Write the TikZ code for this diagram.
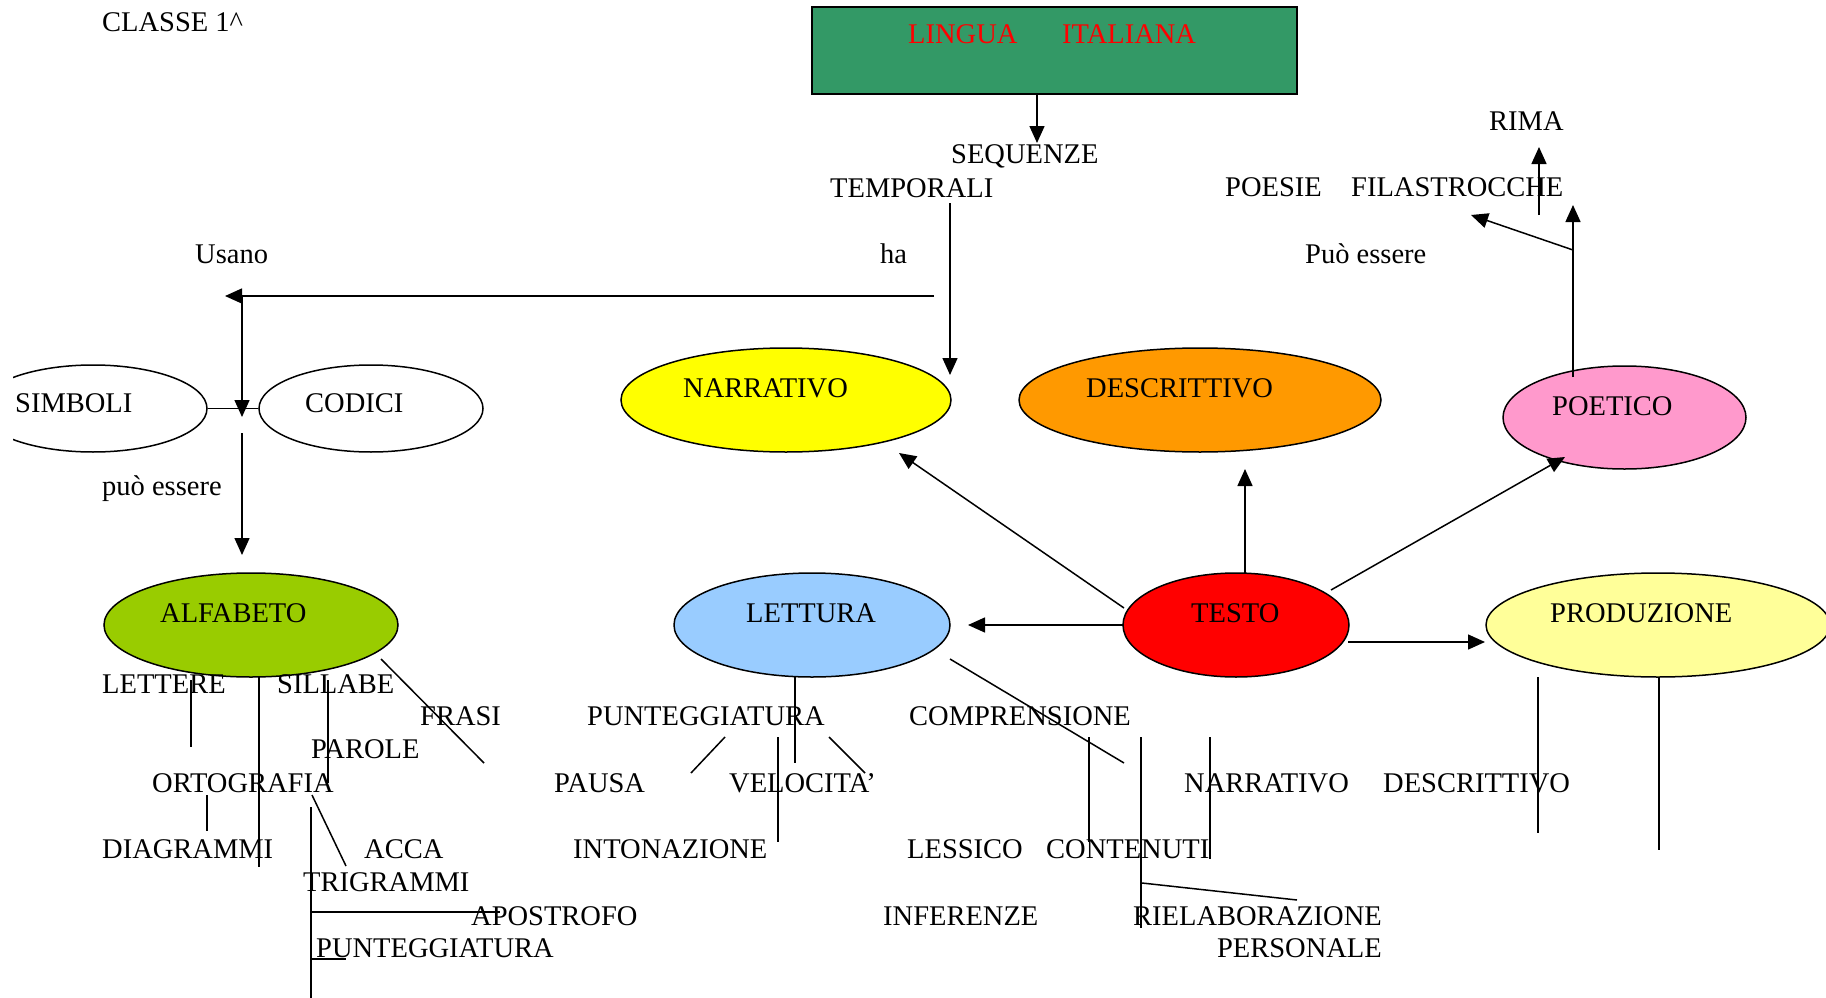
\documentclass[tikz,border=0pt]{standalone}
\usepackage{fontspec}
\setmainfont{Liberation Serif}
\usetikzlibrary{shapes.geometric,arrows.meta}
\definecolor{sea}{HTML}{339966}
\definecolor{cnarr}{HTML}{FFFF00}
\definecolor{cdesc}{HTML}{FF9900}
\definecolor{cpoet}{HTML}{FF99CC}
\definecolor{calfa}{HTML}{99CC00}
\definecolor{clett}{HTML}{99CCFF}
\definecolor{ctesto}{HTML}{FF0000}
\definecolor{cprod}{HTML}{FFFF99}
\begin{document}
\begin{tikzpicture}[x=1pt,y=-1pt,
  txt/.style={anchor=base west,inner sep=0pt,font=\fontsize{28.5}{34}\selectfont},
  ell/.style={ellipse,draw,line width=1.5pt,inner sep=0pt},
  ln/.style={line width=1.5pt},
  arr/.style={line width=1.5pt,-{Triangle[length=17pt,width=15pt]}}]
\useasboundingbox (0,0) rectangle (1826,998);
\begin{scope}
\clip (13,0) rectangle (1826,998);
% boxes and ellipses
\node[draw,line width=1.8pt,fill=sea,minimum width=485pt,minimum height=87pt,inner sep=0pt] (lingua) at (1054.5,50.5) {};
\node[ell,minimum width=228pt,minimum height=87pt] (simboli) at (93,408.5) {};
\node[ell,minimum width=224pt,minimum height=87pt] (codici) at (371,408.5) {};
\node[ell,fill=cnarr,minimum width=330pt,minimum height=104pt] (narr) at (786,400) {};
\node[ell,fill=cdesc,minimum width=362pt,minimum height=104pt] (descr) at (1200,400) {};
\node[ell,fill=cpoet,minimum width=243pt,minimum height=103pt] (poet) at (1624.5,417.5) {};
\node[ell,fill=calfa,minimum width=294pt,minimum height=104pt] (alfa) at (251,625) {};
\node[ell,fill=clett,minimum width=276pt,minimum height=104pt] (lett) at (812,625) {};
\node[ell,fill=ctesto,minimum width=226pt,minimum height=104pt] (testo) at (1236,625) {};
\node[ell,fill=cprod,minimum width=344pt,minimum height=104pt] (prod) at (1658,625) {};
\end{scope}
% texts
\node[txt] (t-classe) at (102,32) {CLASSE 1\textasciicircum};
\node[txt,text=red] (t-lingua) at (908,44) {LINGUA};
\node[txt,text=red] (t-ital) at (1062,44) {ITALIANA};
\node[txt] (t-seq) at (951,163) {SEQUENZE};
\node[txt] (t-temp) at (830,197) {TEMPORALI};
\node[txt] (t-rima) at (1489,130) {RIMA};
\node[txt] (t-poesie) at (1225,196) {POESIE};
\node[txt] (t-fila) at (1351,196) {FILASTROCCHE};
\node[txt] (t-usano) at (195,263) {Usano};
\node[txt] (t-ha) at (880,263) {ha};
\node[txt] (t-puo) at (1305,263) {Può essere};
\node[txt] (t-simboli) at (15,412) {SIMBOLI};
\node[txt] (t-codici) at (305,412) {CODICI};
\node[txt] (t-narr) at (683,397) {NARRATIVO};
\node[txt] (t-descr) at (1086,397) {DESCRITTIVO};
\node[txt] (t-poet) at (1552,415) {POETICO};
\node[txt] (t-puo2) at (102,495) {può essere};
\node[txt] (t-alfa) at (160,622) {ALFABETO};
\node[txt] (t-lett) at (746,622) {LETTURA};
\node[txt] (t-testo) at (1191,622) {TESTO};
\node[txt] (t-prod) at (1550,622) {PRODUZIONE};
\node[txt] (t-lettere) at (102,693) {LETTERE};
\node[txt] (t-sillabe) at (277,693) {SILLABE};
\node[txt] (t-frasi) at (420,725) {FRASI};
\node[txt] (t-punt1) at (587,725) {PUNTEGGIATURA};
\node[txt] (t-compr) at (909,725) {COMPRENSIONE};
\node[txt] (t-parole) at (311,758) {PAROLE};
\node[txt] (t-orto) at (152,792) {ORTOGRAFIA};
\node[txt] (t-pausa) at (554,792) {PAUSA};
\node[txt] (t-veloc) at (729,792) {VELOCITA’};
\node[txt] (t-narr2) at (1184,792) {NARRATIVO};
\node[txt] (t-descr2) at (1383,792) {DESCRITTIVO};
\node[txt] (t-diagr) at (102,858) {DIAGRAMMI};
\node[txt] (t-acca) at (364,858) {ACCA};
\node[txt] (t-inton) at (573,858) {INTONAZIONE};
\node[txt] (t-lessico) at (907,858) {LESSICO};
\node[txt] (t-conten) at (1046,858) {CONTENUTI};
\node[txt] (t-trigr) at (303,891) {TRIGRAMMI};
\node[txt] (t-apos) at (471,925) {APOSTROFO};
\node[txt] (t-infer) at (883,925) {INFERENZE};
\node[txt] (t-riel) at (1133,925) {RIELABORAZIONE};
\node[txt] (t-punt2) at (316,957) {PUNTEGGIATURA};
\node[txt,anchor=base east] (t-pers) at (1382,957) {PERSONALE};
% coordinates
\coordinate (a1) at (1037,94);   \coordinate (a1e) at (1037,143);
\coordinate (h1) at (934,296);   \coordinate (h1e) at (225,296);
\coordinate (v1) at (242,296);   \coordinate (v1e) at (242,417);
\coordinate (v2) at (242,433);   \coordinate (v2e) at (242,555);
\coordinate (ha1) at (950,203);  \coordinate (ha1e) at (950,375);
\coordinate (p1) at (1573,377);  \coordinate (p1e) at (1573,205);
\coordinate (p2) at (1573,250);  \coordinate (p2e) at (1471,215);
\coordinate (r1) at (1539,215);  \coordinate (r1e) at (1539,147);
\coordinate (tn) at (1124,608);  \coordinate (tne) at (899,453);
\coordinate (td) at (1245,573);  \coordinate (tde) at (1245,469);
\coordinate (tp) at (1331,590);  \coordinate (tpe) at (1565,457);
\coordinate (tl) at (1124,625);  \coordinate (tle) at (968,625);
\coordinate (tr) at (1348,642);  \coordinate (tre) at (1485,642);
% arrows
\draw[arr] (a1) -- (a1e);
\draw[arr] (h1) -- (h1e);
\draw[arr] (v1) -- (v1e);
\draw[ln] (simboli.east) -- (codici.west);
\draw[arr] (v2) -- (v2e);
\draw[arr] (ha1) -- (ha1e);
\draw[arr] (p1) -- (p1e);
\draw[arr] (p2) -- (p2e);
\draw[arr] (r1) -- (r1e);
\draw[arr] (tn) -- (tne);
\draw[arr] (td) -- (tde);
\draw[arr] (tp) -- (tpe);
\draw[arr] (tl) -- (tle);
\draw[arr] (tr) -- (tre);
% plain lines
\draw[ln] (191,680) -- (191,747);
\draw[ln] (259,677) -- (259,867);
\draw[ln] (328,680) -- (328,783);
\draw[ln] (381,659) -- (484,763);
\draw[ln] (207,795) -- (207,831);
\draw[ln] (312,795) -- (346,866);
\draw[ln] (311,807) -- (311,998);
\draw[ln] (311,912) -- (500,912);
\draw[ln] (311,959) -- (346,959);
\draw[ln] (795,677) -- (795,763);
\draw[ln] (950,659) -- (1124,763);
\draw[ln] (725,737) -- (691,773);
\draw[ln] (778,737) -- (778,842);
\draw[ln] (829,737) -- (865,773);
\draw[ln] (1089,737) -- (1089,842);
\draw[ln] (1141,737) -- (1141,928);
\draw[ln] (1210,737) -- (1210,859);
\draw[ln] (1142,883) -- (1297,900);
\draw[ln] (1538,677) -- (1538,833);
\draw[ln] (1659,677) -- (1659,850);
\end{tikzpicture}
\end{document}
